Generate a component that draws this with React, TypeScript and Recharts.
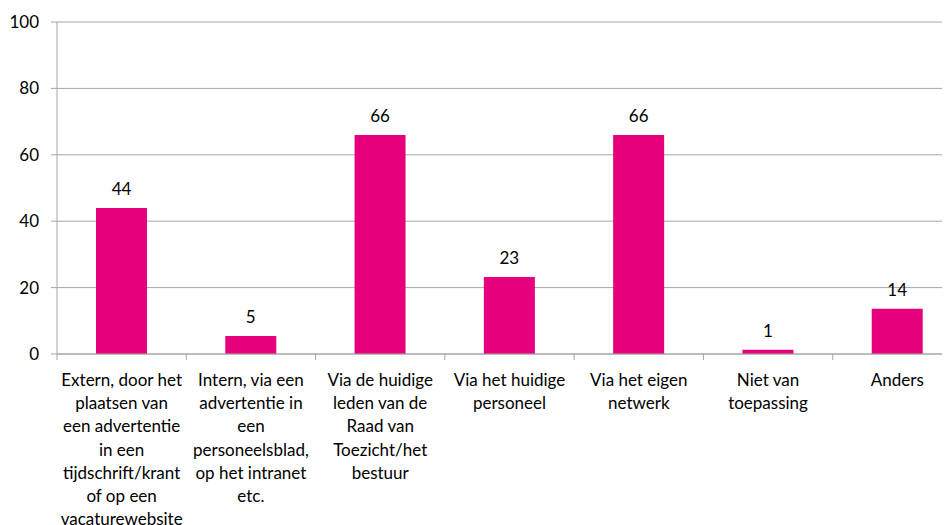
import React from 'react';
import { BarChart, Bar, XAxis, YAxis, CartesianGrid, LabelList } from 'recharts';

const categories = [
  'Extern, door het\nplaatsen van\neen advertentie\nin een\ntijdschrift/krant\nof op een\nvacaturewebsite',
  'Intern, via een\nadvertentie in\neen\npersoneelsblad,\nop het intranet\netc.',
  'Via de huidige\nleden van de\nRaad van\nToezicht/het\nbestuur',
  'Via het huidige\npersoneel',
  'Via het eigen\nnetwerk',
  'Niet van\ntoepassing',
  'Anders',
];
const values = [44, 5.4, 66, 23.2, 66, 1.3, 13.6];
const yTicks = [0, 20, 40, 60, 80, 100];

const data = categories.map((c, i) => ({ name: c, value: values[i] }));

const CHART_W = 960;
const CHART_H = 517;
const MARGIN = { top: 14, right: 6, bottom: 0, left: 0 };
const Y_W = 49;
const PLOT_W = CHART_W - MARGIN.left - MARGIN.right - Y_W;
const BAND = PLOT_W / categories.length;
const FONT = 'Lato, "Open Sans", sans-serif';
const FS = 17;
const GREY = '#a6a6a6';

const XTick = (props: any) => {
  const { x, y, payload } = props;
  const lines: string[] = String(payload.value).split('\n');
  const bx = x - BAND / 2;
  return (
    <g>
      <line x1={bx} y1={y} x2={bx} y2={y + 6} stroke={GREY} strokeWidth={1} />
      <text x={x} y={y + 32} textAnchor="middle" fill="#000" fontSize={FS} fontFamily={FONT}>
        {lines.map((l, i) => (
          <tspan key={i} x={x} dy={i === 0 ? 0 : 23.2}>
            {l}
          </tspan>
        ))}
      </text>
    </g>
  );
};

export default function App() {
  return (
    <div style={{ width: 942, height: 517, overflow: 'hidden' }}>
      <BarChart width={CHART_W} height={CHART_H} data={data} margin={MARGIN}>
        <CartesianGrid vertical={false} stroke={GREY} strokeWidth={1} />
        <XAxis
          dataKey="name"
          interval={0}
          height={171}
          tickSize={0}
          tickMargin={0}
          tickLine={false}
          axisLine={{ stroke: GREY }}
          tick={<XTick />}
        />
        <YAxis
          width={Y_W}
          domain={[0, 100]}
          ticks={yTicks}
          interval={0}
          tickSize={6}
          tickMargin={12}
          axisLine={{ stroke: GREY }}
          tickLine={{ stroke: GREY }}
          tick={{ fill: '#000', fontSize: FS, fontFamily: FONT }}
        />
        <Bar dataKey="value" fill="#E6007E" barSize={51} isAnimationActive={false}>
          <LabelList
            dataKey="value"
            position="top"
            offset={13}
            formatter={(v: any) => Math.round(Number(v))}
            style={{ fill: '#000', fontSize: FS, fontFamily: FONT }}
          />
        </Bar>
      </BarChart>
    </div>
  );
}
